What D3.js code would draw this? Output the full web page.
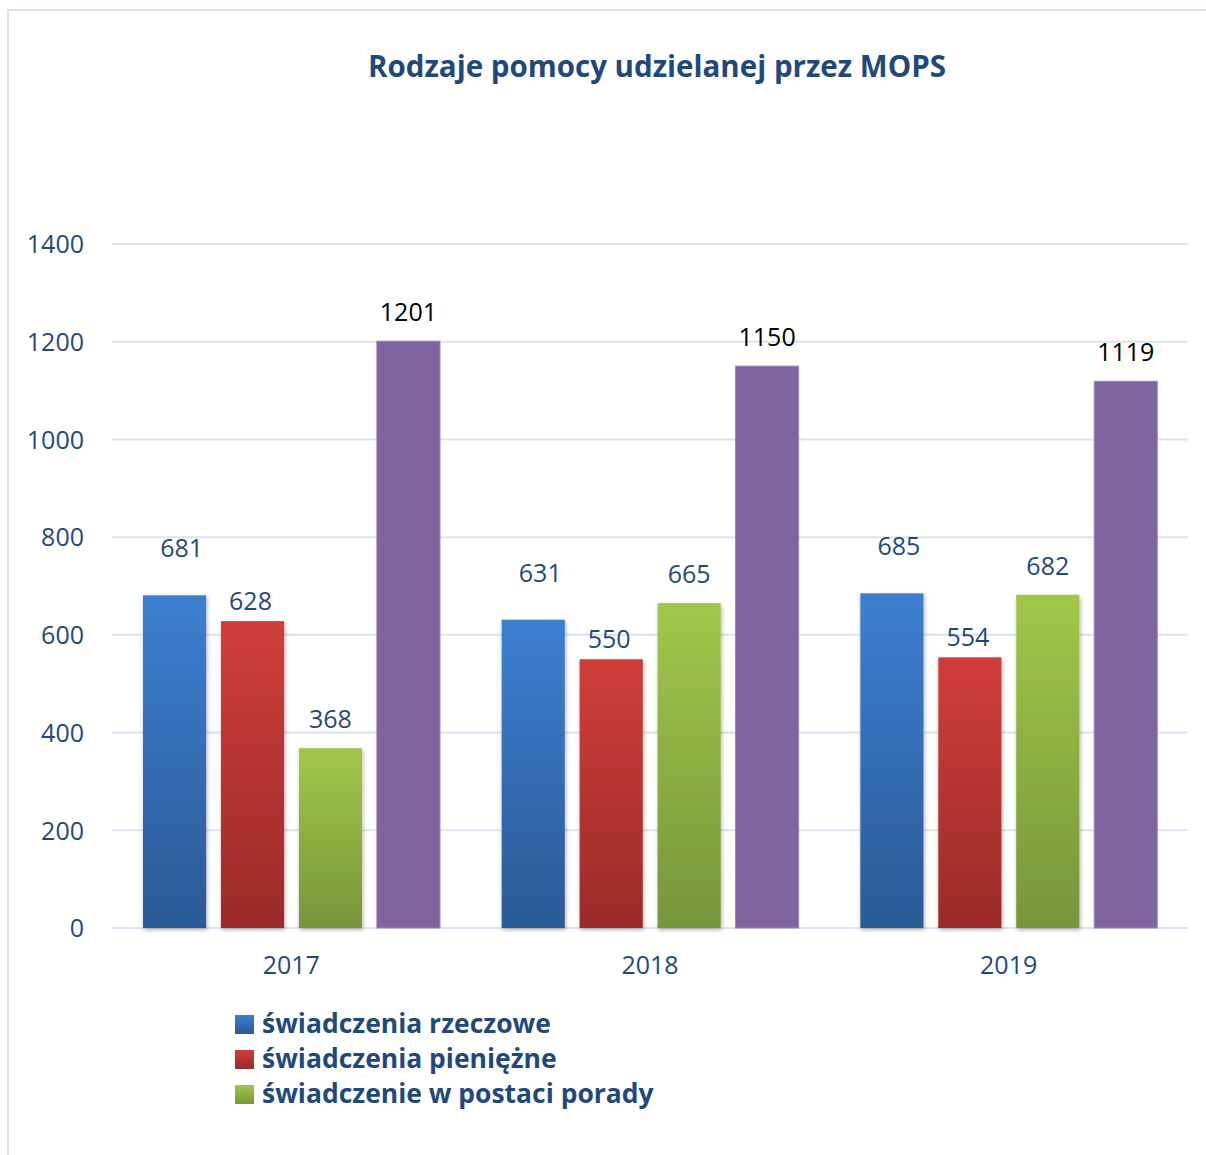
<!DOCTYPE html>
<html>
<head>
<meta charset="utf-8">
<script src="https://cdn.jsdelivr.net/npm/d3@7"></script>
<style>
  html, body { margin: 0; padding: 0; background: #fff; }
  svg { display: block; }
</style>
</head>
<body>
<svg id="chart" width="1206" height="1155"></svg>
<script>
// ---- data ----
const categories = ["2017", "2018", "2019"];
const seriesNames = ["świadczenia rzeczowe", "świadczenia pieniężne", "świadczenie w postaci porady", ""];
const rzeczowe = [681, 631, 685];
const pieniezne = [628, 550, 554];
const porady = [368, 665, 682];
const czwarta = [1201, 1150, 1119];
const yTicks = [0, 200, 400, 600, 800, 1000, 1200, 1400];
const titleText = "Rodzaje pomocy udzielanej przez MOPS";

// ---- styles ----
const seriesValues = [rzeczowe, pieniezne, porady, czwarta];
const gradStops = [
  ["#3D7FD1", "#2B5A96"],
  ["#D03E3B", "#9A2B29"],
  ["#A1C749", "#76963A"],
  ["#8064A2", "#8064A2"]
];
const labelColors = ["#1F497D", "#1F497D", "#1F497D", "#000000"];
const labelOffsets = [38, 11, 20, 20];
const labelDx = [7, -2, 0, 0];
const navy = "#1F497D";
const font = "'Open Sans', 'DejaVu Sans', sans-serif";
const numSize = 25;

const svg = d3.select("#chart");
const defs = svg.append("defs");

gradStops.forEach((s, i) => {
  const g = defs.append("linearGradient").attr("id", "grad" + i)
    .attr("x1", 0).attr("y1", 0).attr("x2", 0).attr("y2", 1);
  g.append("stop").attr("offset", "0%").attr("stop-color", s[0]);
  g.append("stop").attr("offset", "100%").attr("stop-color", s[1]);
});
const f = defs.append("filter").attr("id", "shadow")
  .attr("x", "-20%").attr("y", "-5%").attr("width", "140%").attr("height", "115%");
f.append("feDropShadow").attr("dx", 1).attr("dy", 2).attr("stdDeviation", 2)
  .attr("flood-color", "#000").attr("flood-opacity", 0.3);

// outer frame
svg.append("rect").attr("x", 8).attr("y", 10).attr("width", 1250).attr("height", 1200)
  .attr("fill", "none").attr("stroke", "#D6E2F2").attr("stroke-width", 2);

// scales
const x0 = d3.scaleBand().domain(categories).range([112, 1188]);
const x1 = d3.scaleBand().domain(d3.range(seriesValues.length)).range([31, 328]).paddingInner(0.19);
const y = d3.scaleLinear().domain([0, 1400]).range([928, 244]);

// fit text width helper
function fit(sel, target) {
  const w = sel.node().getComputedTextLength();
  const fs = parseFloat(sel.attr("font-size"));
  sel.attr("font-size", (fs * target / w).toFixed(2));
}

// title
const title = svg.append("text").attr("x", 657).attr("y", 77)
  .attr("text-anchor", "middle").attr("font-family", font).attr("font-weight", "bold")
  .attr("font-size", 30).attr("fill", navy).text(titleText);
fit(title, 578);

// gridlines
svg.append("g").selectAll("line").data(yTicks).join("line")
  .attr("x1", 112).attr("x2", 1188)
  .attr("y1", d => y(d)).attr("y2", d => y(d))
  .attr("stroke", "#D9E4F2").attr("stroke-width", 2);

// y axis
const yAxis = svg.append("g").attr("transform", "translate(84,0)")
  .call(d3.axisLeft(y).tickValues(yTicks).tickFormat(d3.format("d")).tickSize(0).tickPadding(0));
yAxis.select(".domain").remove();
yAxis.selectAll("text").attr("font-family", font).attr("font-size", numSize)
  .attr("fill", navy).attr("dy", "0.35em");

// x axis
const xAxis = svg.append("g").attr("transform", "translate(0,950)")
  .call(d3.axisBottom(x0).tickSize(0).tickPadding(0));
xAxis.select(".domain").remove();
xAxis.selectAll("text").attr("font-family", font).attr("font-size", numSize)
  .attr("fill", navy).attr("dy", "0.95em");

// bars
const groups = svg.append("g").selectAll("g").data(categories).join("g")
  .attr("transform", d => `translate(${x0(d)},0)`);

groups.each(function(cat, ci) {
  const g = d3.select(this);
  const data = seriesValues.map((vals, si) => ({ si, v: vals[ci] }));
  g.selectAll("rect").data(data).join("rect")
    .attr("x", d => x1(d.si))
    .attr("y", d => y(d.v))
    .attr("width", x1.bandwidth())
    .attr("height", d => y(0) - y(d.v))
    .attr("fill", d => `url(#grad${d.si})`)
    .attr("stroke", d => d.si === 3 ? "#9A86BE" : "none")
    .attr("stroke-width", d => d.si === 3 ? 1 : 0)
    .attr("filter", d => d.si === 3 ? null : "url(#shadow)");
  g.selectAll("text").data(data).join("text")
    .attr("x", d => x1(d.si) + x1.bandwidth() / 2 + labelDx[d.si])
    .attr("y", d => y(d.v) - labelOffsets[d.si])
    .attr("text-anchor", "middle")
    .attr("font-family", font).attr("font-size", numSize)
    .attr("fill", d => labelColors[d.si])
    .text(d => d.v);
});

// legend
const legend = svg.append("g").attr("transform", "translate(235,1015)");
const items = legend.selectAll("g").data(seriesNames.slice(0, 3)).join("g")
  .attr("transform", (d, i) => `translate(0,${i * 35})`);
items.append("rect").attr("width", 19).attr("height", 19)
  .attr("fill", (d, i) => `url(#grad${i})`);
items.append("text").attr("x", 27).attr("y", 18)
  .attr("font-family", font).attr("font-weight", "bold").attr("font-size", 26)
  .attr("fill", navy).text(d => d);
fit(items.filter((d, i) => i === 0).select("text"), 289);
const lfs = items.filter((d, i) => i === 0).select("text").attr("font-size");
items.selectAll("text").attr("font-size", lfs);
</script>
</body>
</html>
